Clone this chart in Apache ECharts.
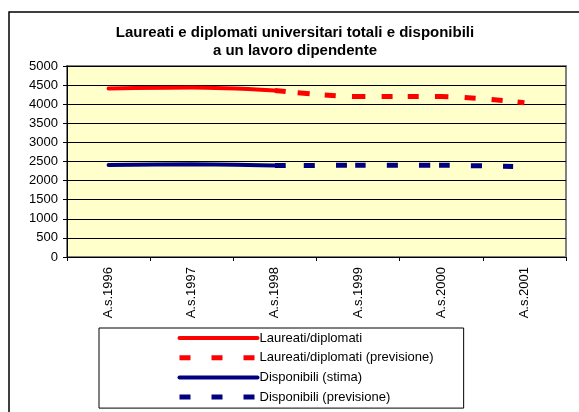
<!DOCTYPE html>
<html>
<head>
<meta charset="utf-8">
<script src="https://cdn.jsdelivr.net/npm/echarts@6/dist/echarts.min.js"></script>
<style>
html,body{margin:0;padding:0;background:#fff;}
#c{width:579px;height:412px;}
</style>
</head>
<body>
<div id="c"></div>
<script>
var categories = ['A.s.1996', 'A.s.1997', 'A.s.1998', 'A.s.1999', 'A.s.2000', 'A.s.2001'];
var laureati = [4410, 4435, 4360, null, null, null];
var laureatiPrev = [null, null, 4360, 4200, 4200, 4040];
var disponibili = [2410, 2430, 2395, null, null, null];
var disponibiliPrev = [null, null, 2395, 2400, 2400, 2360];
var yTicks = [0, 500, 1000, 1500, 2000, 2500, 3000, 3500, 4000, 4500, 5000];

var chart = echarts.init(document.getElementById('c'), null, {renderer: 'canvas'});
var font = 'Liberation Sans, Arial, sans-serif';
var redDash = [11, 12, 12, 15, 11, 16, 14, 16, 11, 15, 11, 16, 14, 16, 11, 16, 11, 15, 9, 100];
var blueDash = [11, 18, 11, 21, 11, 8, 11, 21, 11, 21, 11, 9, 11, 21, 11, 21, 10, 100];
var hideSym = {opacity: 0};

chart.setOption({
  animation: false,
  backgroundColor: '#ffffff',
  title: {
    text: 'Laureati e diplomati universitari totali e disponibili\na un lavoro dipendente',
    left: 290, top: 19, textAlign: 'center',
    textStyle: {fontFamily: font, fontSize: 15, fontWeight: 'bold', color: '#000', lineHeight: 18}
  },
  graphic: [{
    type: 'rect', silent: true, z: -1,
    shape: {x: 9, y: 12, width: 620, height: 460},
    style: {fill: 'none', stroke: '#000', lineWidth: 1.5}
  }],
  grid: {
    left: 67, right: 13, top: 66, bottom: 155,
    show: true, backgroundColor: '#FFFFCC', borderColor: '#808080', borderWidth: 2
  },
  legend: {
    orient: 'vertical', left: 99, top: 328, height: 84,
    padding: [3, 30, 4, 78],
    borderColor: '#000', borderWidth: 1, backgroundColor: '#fff',
    itemWidth: 78, itemHeight: 14, itemGap: 5.7,
    textStyle: {fontFamily: font, fontSize: 13, color: '#000', lineHeight: 14, padding: [0, 0, 0, -3]},
    data: [
      {name: 'Laureati/diplomati', itemStyle: hideSym, lineStyle: {type: 'solid', width: 4, cap: 'round'}},
      {name: 'Laureati/diplomati (previsione)', itemStyle: hideSym, lineStyle: {type: [11, 21], width: 5}},
      {name: 'Disponibili (stima)', itemStyle: hideSym, lineStyle: {type: 'solid', width: 4, cap: 'round'}},
      {name: 'Disponibili (previsione)', itemStyle: hideSym, lineStyle: {type: [11, 21], width: 5}}
    ]
  },
  xAxis: {
    type: 'category', data: categories, boundaryGap: true,
    axisLine: {show: true, lineStyle: {color: '#000', width: 1}},
    axisTick: {show: true, length: 4, lineStyle: {color: '#000'}},
    axisLabel: {rotate: 90, fontFamily: font, fontSize: 13, color: '#000', margin: 10},
    splitLine: {show: false}
  },
  yAxis: {
    type: 'value', min: 0, max: 5000, interval: 500,
    axisLine: {show: true, lineStyle: {color: '#000', width: 1}},
    axisTick: {show: true, length: 4, lineStyle: {color: '#000'}},
    axisLabel: {fontFamily: font, fontSize: 13, color: '#000', margin: 9,
      formatter: function (v) { return yTicks.indexOf(v) >= 0 ? String(v) : ''; }},
    splitLine: {show: true, lineStyle: {color: '#000', width: 1}}
  },
  series: [
    {name: 'Laureati/diplomati', type: 'line', data: laureati, smooth: 0.3, symbol: 'none',
     lineStyle: {color: '#FF0000', width: 4, cap: 'round'}, itemStyle: {color: '#FF0000'}},
    {name: 'Laureati/diplomati (previsione)', type: 'line', data: laureatiPrev, smooth: 0.3, symbol: 'none',
     lineStyle: {color: '#FF0000', width: 5, type: redDash}, itemStyle: {color: '#FF0000'}},
    {name: 'Disponibili (stima)', type: 'line', data: disponibili, smooth: 0.3, symbol: 'none',
     lineStyle: {color: '#000080', width: 4, cap: 'round'}, itemStyle: {color: '#000080'}},
    {name: 'Disponibili (previsione)', type: 'line', data: disponibiliPrev, smooth: 0.3, symbol: 'none',
     lineStyle: {color: '#000080', width: 5, type: blueDash}, itemStyle: {color: '#000080'}}
  ]
});
</script>
</body>
</html>
